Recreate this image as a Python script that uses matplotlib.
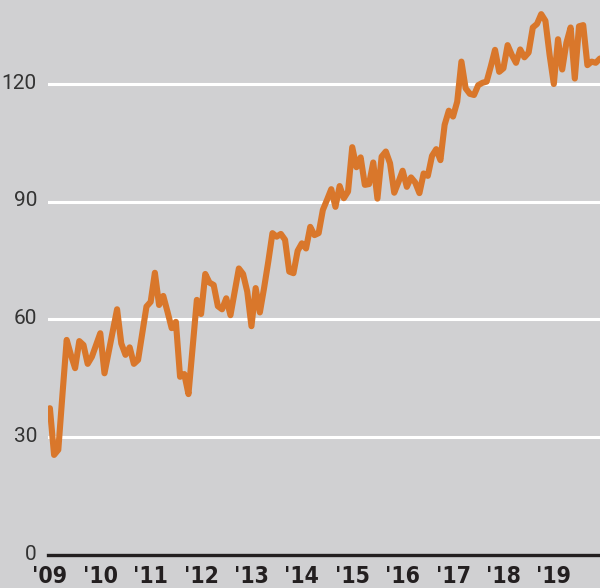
# Monthly index line chart, 2009-2019
import numpy as np
import matplotlib.pyplot as plt
import matplotlib.transforms as mtransforms

# one value per month, Jan 2009 .. Dec 2019
values_2009 = [37.4, 25.5, 26.8, 41.0, 54.8, 51.0, 47.6, 54.5, 53.5, 48.7, 50.5, 53.5]
values_2010 = [56.5, 46.3, 51.7, 57.2, 62.6, 53.9, 51.0, 52.9, 48.7, 49.7, 56.5, 63.3]
values_2011 = [64.5, 71.9, 63.7, 66.0, 62.0, 57.8, 59.4, 45.4, 46.1, 41.0, 53.0, 65.0]
values_2012 = [61.4, 71.6, 69.4, 68.8, 63.4, 62.6, 65.4, 61.1, 67.0, 73.0, 71.6, 67.1]
values_2013 = [58.3, 68.0, 61.8, 68.0, 74.7, 82.0, 81.1, 81.8, 80.3, 72.2, 71.8, 77.5]
values_2014 = [79.4, 78.1, 83.6, 81.5, 82.0, 87.9, 90.5, 93.2, 88.7, 94.0, 90.9, 92.6]
values_2015 = [103.9, 98.8, 101.3, 94.3, 94.5, 100.0, 90.8, 101.5, 102.8, 99.8, 92.3, 95.0]
values_2016 = [97.9, 93.8, 96.2, 94.9, 92.2, 97.2, 96.6, 101.7, 103.4, 100.6, 109.6, 113.2]
values_2017 = [111.7, 115.5, 125.7, 118.9, 117.5, 117.2, 119.7, 120.3, 120.6, 124.5, 128.7, 123.1]
values_2018 = [124.0, 129.9, 127.4, 125.4, 128.8, 126.8, 128.0, 134.4, 135.3, 137.8, 136.1, 127.4]
values_2019 = [120.0, 131.4, 123.7, 130.5, 134.4, 121.4, 134.7, 135.0, 124.8, 125.7, 125.4, 126.5]

year_labels = ["'09", "'10", "'11", "'12", "'13", "'14", "'15", "'16", "'17", "'18", "'19"]
y_ticks = [0, 30, 60, 90, 120]

BG = '#d0d0d2'
ORANGE = '#d9772b'


def build_series():
    vals = (values_2009 + values_2010 + values_2011 + values_2012 + values_2013 + values_2014
            + values_2015 + values_2016 + values_2017 + values_2018 + values_2019)
    months = np.arange(len(vals))
    return months, np.array(vals)


def draw(months, vals):
    fig = plt.figure(figsize=(6, 5.88), dpi=100, facecolor=BG)
    ax = fig.add_axes([48 / 600, 33 / 588, 1 - 48 / 600, 1 - 33 / 588])
    ax.set_facecolor(BG)

    # white gridlines, drawn under the line
    for y in y_ticks[1:]:
        ax.axhline(y, color='white', lw=2.2, zorder=1)

    ax.plot(months, vals, color=ORANGE, lw=4.4, solid_joinstyle='round',
            solid_capstyle='round', zorder=3)

    ax.set_xlim(-0.45, 131.0)
    ax.set_ylim(0, 141.4)

    for s in ['top', 'right', 'left']:
        ax.spines[s].set_visible(False)
    ax.spines['bottom'].set_color('#231f20')
    ax.spines['bottom'].set_linewidth(2.4)
    ax.spines['bottom'].set_zorder(4)

    ax.set_yticks(y_ticks)
    ax.set_yticklabels([str(t) for t in y_ticks], fontsize=15, color='#333333',
                       family=['Roboto', 'DejaVu Sans'])
    ax.set_xticks(np.arange(0, 132, 12))
    ax.set_xticklabels(year_labels, fontsize=16.5, color='#231f20', fontweight='bold',
                       family='DejaVu Sans', fontstretch='condensed')
    ax.tick_params(axis='y', length=0, pad=8)
    ax.tick_params(axis='x', length=0, pad=7)

    # nudge the value labels up a little so the 0 clears the year labels
    shift = mtransforms.ScaledTranslation(0, 2 / 72, fig.dpi_scale_trans)
    for lbl in ax.get_yticklabels():
        lbl.set_transform(lbl.get_transform() + shift)

    fig.savefig('out.png', dpi=100, facecolor=BG)


def main():
    months, vals = build_series()
    draw(months, vals)
    return 0


if __name__ == "__main__":
    main()
